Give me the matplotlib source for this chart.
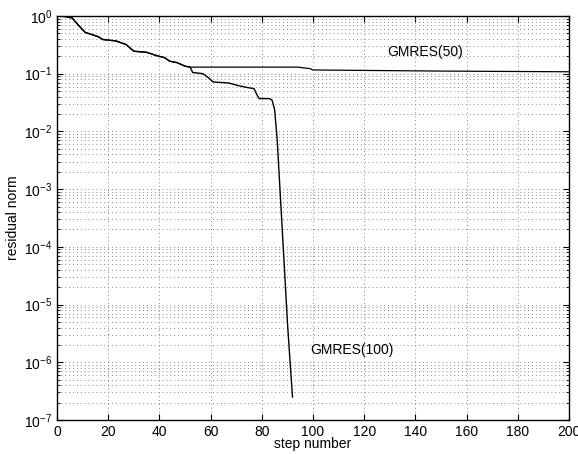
import matplotlib
matplotlib.use("Agg")
import matplotlib.pyplot as plt
from matplotlib.ticker import LogLocator, NullFormatter, MultipleLocator

plt.rcParams['font.family'] = ['Liberation Sans', 'DejaVu Sans']
plt.rcParams['mathtext.fontset'] = 'custom'
plt.rcParams['mathtext.rm'] = 'Liberation Sans'
plt.rcParams['mathtext.it'] = 'Liberation Sans'

# GMRES(100) residual history
steps_100 = [0, 3, 6, 8, 11, 14, 16, 18, 23, 27, 30, 35, 39, 42, 44, 47, 50, 52,
             53, 57, 59, 61, 67, 71, 74, 77, 78, 79, 83, 84, 85, 86, 87, 88, 89,
             90, 91, 92]
res_100 = [1.0, 0.98, 0.92, 0.72, 0.52, 0.47, 0.44, 0.39, 0.37, 0.32, 0.245,
           0.235, 0.205, 0.19, 0.165, 0.155, 0.135, 0.13, 0.105, 0.1, 0.086,
           0.072, 0.069, 0.062, 0.058, 0.055, 0.044, 0.037, 0.037, 0.035,
           0.024, 7.4e-3, 1.2e-3, 1.95e-4, 3.2e-5, 5e-6, 1.1e-6, 2.5e-7]

# GMRES(50) residual history (same as GMRES(100) up to the restart)
steps_50 = [0, 3, 6, 8, 11, 14, 16, 18, 23, 27, 30, 35, 39, 42, 44, 47, 50, 52,
            94, 99, 100, 150, 200]
res_50 = [1.0, 0.98, 0.92, 0.72, 0.52, 0.47, 0.44, 0.39, 0.37, 0.32, 0.245,
          0.235, 0.205, 0.19, 0.165, 0.155, 0.135, 0.13, 0.13, 0.122, 0.116,
          0.111, 0.108]

fig = plt.figure(figsize=(5.78, 4.54), dpi=100)
ax = fig.add_axes([0.0986, 0.0749, 0.9844 - 0.0986, 0.9648 - 0.0749])

ax.semilogy(steps_50, res_50, color='black', lw=0.9)
ax.semilogy(steps_100, res_100, color='black', lw=1.0)

ax.set_xlim(0, 200)
ax.set_ylim(1e-7, 1)
ax.xaxis.set_major_locator(MultipleLocator(20))
ax.yaxis.set_major_locator(LogLocator(base=10, numticks=10))
ax.yaxis.set_minor_locator(LogLocator(base=10, subs=range(2, 10), numticks=20))
ax.yaxis.set_minor_formatter(NullFormatter())

ax.grid(True, which='major', color='#888888', ls=(0, (1, 3)), lw=0.7)
ax.grid(True, which='minor', axis='y', color='#888888', ls=(0, (1, 3)), lw=0.7)

ax.tick_params(which='both', direction='in', top=True, right=True, labelsize=10)
ax.tick_params(which='major', length=4)
ax.tick_params(which='minor', length=2)
for s in ax.spines.values():
    s.set_linewidth(1.0)

ax.set_xlabel('step number', fontsize=10, labelpad=-1)
ax.set_ylabel('residual norm', fontsize=10, labelpad=3)

ax.text(129, 0.24, 'GMRES(50)', fontsize=10, va='center')
ax.text(99, 1.6e-6, 'GMRES(100)', fontsize=10, va='center')

fig.savefig('out.png', dpi=100)
